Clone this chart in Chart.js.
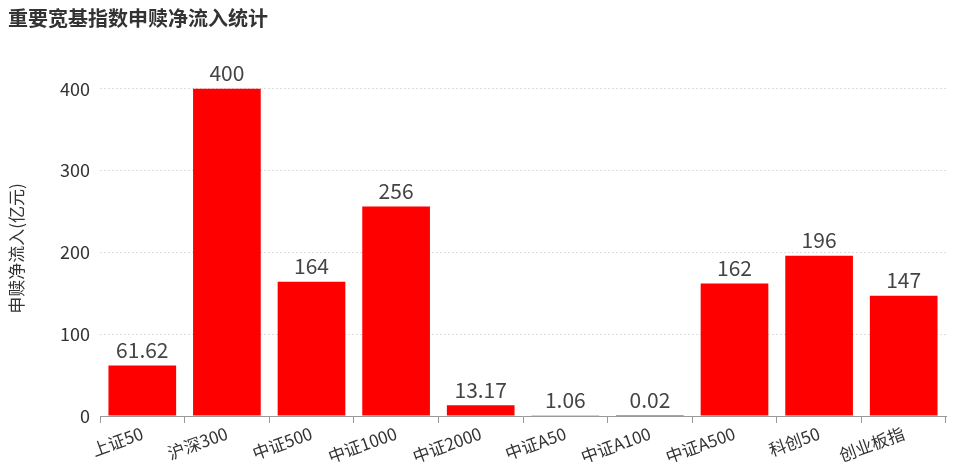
<!DOCTYPE html>
<html>
<head>
<meta charset="utf-8">
<script src="https://cdn.jsdelivr.net/npm/chart.js@4"></script>
<style>
body{margin:0;background:#fff;}
#wrap{width:960px;height:465px;}
</style>
</head>
<body>
<div id="wrap"><canvas id="grafica"></canvas></div>
<script>
const categorias = ['上证50','沪深300','中证500','中证1000','中证2000','中证A50','中证A100','中证A500','科创50','创业板指'];
const valores = [61.62, 400, 164, 256, 13.17, 1.06, 0.02, 162, 196, 147];
const ticksY = [0, 100, 200, 300, 400];
const tituloY = '申赎净流入(亿元)';

const fuente = '"Noto Sans CJK SC", "Noto Sans", sans-serif';

// etiquetas de valor encima de cada barra y titulo del eje Y
const etiquetasValor = {
    id: 'etiquetasValor',
    afterDatasetsDraw(chart){
        const ctx = chart.ctx;
        const meta = chart.getDatasetMeta(0);
        ctx.save();
        ctx.font = '21px ' + fuente;
        ctx.fillStyle = '#444';
        ctx.textAlign = 'center';
        ctx.textBaseline = 'bottom';
        meta.data.forEach(function(bar, i){
            ctx.fillText(String(valores[i]), bar.x, bar.y - 5);
        });
        // titulo eje y
        var area = chart.chartArea;
        ctx.translate(17, area.top + (area.bottom - area.top) * 0.54);
        ctx.rotate(-Math.PI / 2);
        ctx.font = '17px ' + fuente;
        ctx.fillStyle = '#333';
        ctx.textBaseline = 'middle';
        ctx.fillText(tituloY, 0, 0);
        ctx.restore();
    }
};

var ctx = document.getElementById('grafica').getContext('2d');
var myChart = new Chart(ctx, {
    type: 'bar',
    data: {
        labels: categorias,
        datasets: [{
            label: '申赎净流入',
            data: valores,
            backgroundColor: 'rgb(255, 0, 0)',
            borderWidth: 0,
            barPercentage: 0.8,
            categoryPercentage: 1
        }]
    },
    options: {
        responsive: true,
        maintainAspectRatio: false,
        animation: false,
        layout: { padding: { left: 8, right: 14, top: 0, bottom: 0 } },
        scales: {
            x: {
                offset: true,
                grid: {
                    display: true,
                    drawOnChartArea: false,
                    offset: true,
                    tickLength: 7,
                    color: '#999'
                },
                border: { display: true, color: '#999' },
                ticks: {
                    minRotation: 20,
                    maxRotation: 20,
                    color: '#333',
                    font: { family: fuente, size: 17 },
                    padding: 0
                },
                afterFit: function(scale){ scale.height = 49; }
            },
            y: {
                min: 0,
                max: 445,
                afterBuildTicks: function(scale){
                    scale.ticks = ticksY.map(function(v){ return { value: v }; });
                },
                grid: {
                    color: '#ddd',
                    drawTicks: false
                },
                border: { display: false, dash: [2, 2] },
                ticks: {
                    color: '#333',
                    padding: 10,
                    font: { family: fuente, size: 18 }
                },
                afterFit: function(scale){ scale.width = 92; }
            }
        },
        plugins: {
            legend: { display: false },
            tooltip: { enabled: false },
            title: {
                display: true,
                text: '重要宽基指数申赎净流入统计',
                align: 'start',
                color: '#333',
                font: { family: fuente, size: 20, weight: 'bold' },
                padding: { top: 6, bottom: 22 }
            }
        }
    },
    plugins: [etiquetasValor]
});
</script>
</body>
</html>
